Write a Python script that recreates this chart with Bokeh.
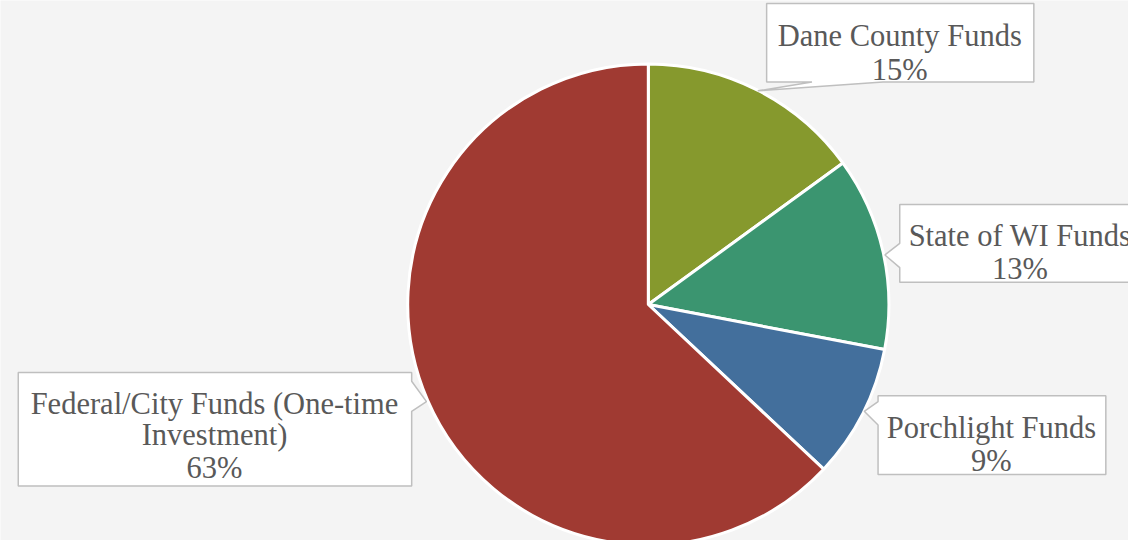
import math
from bokeh.plotting import figure
from bokeh.models import Range1d
from bokeh.core.properties import value
from bokeh.embed import file_html
from bokeh.resources import INLINE

# ---- data ----
categories = ["Dane County Funds", "State of WI Funds", "Porchlight Funds",
              "Federal/City Funds (One-time Investment)"]
shares = [15, 13, 9, 63]
colors = ["#86992d", "#3b9570", "#436f9c", "#a03a32"]
label_lines = [["Dane County Funds"], ["State of WI Funds"], ["Porchlight Funds"],
               ["Federal/City Funds (One-time", "Investment)"]]

REF_W, REF_H = 1144, 556
W, H = 1128, 540


def Y(py):
    return REF_H - py


p = figure(width=W, height=H, output_backend="svg", toolbar_location=None,
           x_range=Range1d(0, REF_W), y_range=Range1d(0, REF_H),
           min_border=0, background_fill_color="#f4f4f4",
           border_fill_color="#f4f4f4")
p.axis.visible = False
p.grid.visible = False
p.outline_line_color = None

# ---- pie ----
cx, cy, r = 657, Y(313), 244
total = float(sum(shares))
cum = 0.0
for val, col in zip(shares, colors):
    a0 = math.pi / 2 - 2 * math.pi * cum / total
    cum += val
    a1 = math.pi / 2 - 2 * math.pi * cum / total
    p.wedge(x=cx, y=cy, radius=r, start_angle=a0, end_angle=a1,
            direction="clock", fill_color=col, line_color="white", line_width=3)

# ---- callouts (reference pixel coordinates) ----
callouts = [
    dict(poly=[(777, 3), (1048, 3), (1048, 84), (895, 84), (768, 93), (823, 84), (777, 84)],
         cx=912, base=[37, 72]),
    dict(poly=[(912, 210), (1170, 210), (1170, 290), (912, 290), (912, 275), (897, 262), (912, 250)],
         cx=1034, base=[242, 276]),
    dict(poly=[(890, 407), (1121, 407), (1121, 488), (890, 488), (890, 437), (876, 423), (890, 413)],
         cx=1005, base=[440, 474]),
    dict(poly=[(18, 383), (417, 383), (417, 392), (432, 413), (417, 423), (417, 500), (18, 500)],
         cx=217, base=[415, 447, 481]),
]

FONT = value("Liberation Serif")
for c, lines, val in zip(callouts, label_lines, shares):
    xs = [pt[0] for pt in c["poly"]]
    ys = [Y(pt[1]) for pt in c["poly"]]
    p.patch(xs, ys, fill_color="white", line_color="#bfbfbf", line_width=1.5)
    texts = lines + [f"{val}%"]
    for t, b in zip(texts, c["base"]):
        p.text(x=[c["cx"]], y=[Y(b)], text=[t], text_font=FONT,
               text_font_size="30.5px", text_color="#595959",
               text_align="center", text_baseline="alphabetic")

open("out.html", "w").write(file_html(p, INLINE))
